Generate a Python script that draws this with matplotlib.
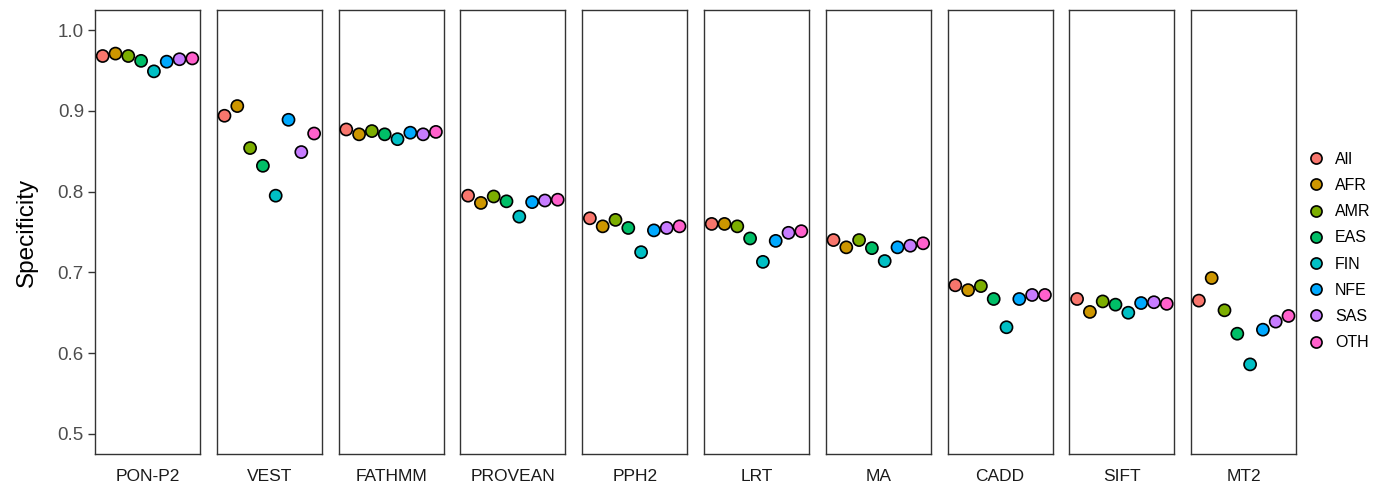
import matplotlib
matplotlib.use("Agg")
import matplotlib.pyplot as plt
from matplotlib.lines import Line2D

plt.rcParams['font.family'] = ['Liberation Sans', 'DejaVu Sans']

methods = ["PON-P2", "VEST", "FATHMM", "PROVEAN", "PPH2", "LRT", "MA", "CADD", "SIFT", "MT2"]
groups = ["All", "AFR", "AMR", "EAS", "FIN", "NFE", "SAS", "OTH"]
colors = ["#F8766D", "#CD9600", "#7CAE00", "#00BE67", "#00BFC4", "#00A9FF", "#C77CFF", "#FF61CC"]

pon_p2  = [0.968, 0.971, 0.968, 0.962, 0.949, 0.961, 0.964, 0.965]
vest    = [0.894, 0.906, 0.854, 0.832, 0.795, 0.889, 0.849, 0.872]
fathmm  = [0.877, 0.871, 0.875, 0.871, 0.865, 0.873, 0.871, 0.874]
provean = [0.795, 0.786, 0.794, 0.788, 0.769, 0.787, 0.789, 0.790]
pph2    = [0.767, 0.757, 0.765, 0.755, 0.725, 0.752, 0.755, 0.757]
lrt     = [0.760, 0.760, 0.757, 0.742, 0.713, 0.739, 0.749, 0.751]
ma      = [0.740, 0.731, 0.740, 0.730, 0.714, 0.731, 0.733, 0.736]
cadd    = [0.684, 0.678, 0.683, 0.667, 0.632, 0.667, 0.672, 0.672]
sift    = [0.667, 0.651, 0.664, 0.660, 0.650, 0.662, 0.663, 0.661]
mt2     = [0.665, 0.693, 0.653, 0.624, 0.586, 0.629, 0.639, 0.646]

values = [pon_p2, vest, fathmm, provean, pph2, lrt, ma, cadd, sift, mt2]

W, H = 1392, 488
fig = plt.figure(figsize=(W / 100, H / 100), dpi=100)

left_px, width_px, pitch_px = 95, 105, 121.8
top_px, bottom_px = 10, 454
grey_txt = "#4D4D4D"

for i, (m, vals) in enumerate(zip(methods, values)):
    x0 = (left_px + i * pitch_px) / W
    ax = fig.add_axes([x0, 1 - bottom_px / H, width_px / W, (bottom_px - top_px) / H])
    xs = list(range(1, len(groups) + 1))
    ax.scatter(xs, vals, c=colors, s=76, edgecolors="black", linewidths=1.2, zorder=3)
    ax.set_xlim(0.4, 8.6)
    ax.set_ylim(0.475, 1.025)
    ax.set_xticks([])
    ax.set_xlabel(m, fontsize=12.5, color="#1A1A1A", labelpad=11)
    for sp in ax.spines.values():
        sp.set_color("#333333")
        sp.set_linewidth(1.0)
    if i == 0:
        ax.set_yticks([0.5, 0.6, 0.7, 0.8, 0.9, 1.0])
        ax.set_yticklabels(["0.5", "0.6", "0.7", "0.8", "0.9", "1.0"])
        ax.tick_params(axis="y", length=5, width=1, color="#333333",
                       labelsize=13.5, labelcolor=grey_txt, pad=3)
        ax.set_ylabel("Specificity", fontsize=17.5, color="black", labelpad=14)
    else:
        ax.set_yticks([])

handles = [Line2D([], [], marker="o", linestyle="", markerfacecolor=c,
                  markeredgecolor="black", markeredgewidth=1.2, markersize=8)
           for c in colors]
fig.legend(handles, groups, loc="center left", bbox_to_anchor=(1300 / W, 1 - 251 / H),
           frameon=False, fontsize=11.5, labelspacing=0.7, handletextpad=0.6,
           handlelength=1.2, borderaxespad=0)

fig.savefig("out.png", dpi=100)
